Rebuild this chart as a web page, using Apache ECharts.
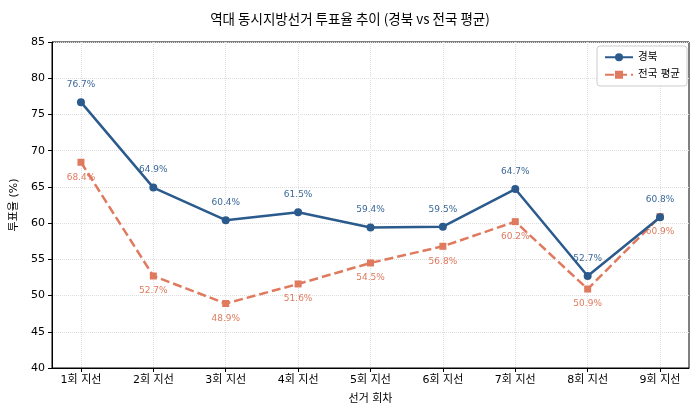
<!DOCTYPE html>
<html>
<head>
<meta charset="utf-8">
<script src="https://cdn.jsdelivr.net/npm/echarts@6/dist/echarts.min.js"></script>
<style>html,body{margin:0;padding:0;background:#fff}#chart{width:700px;height:420px}</style>
</head>
<body>
<div id="chart"></div>
<script>
var rounds = ['1회 지선', '2회 지선', '3회 지선', '4회 지선', '5회 지선', '6회 지선', '7회 지선', '8회 지선', '9회 지선'];
var gyeongbuk = [76.7, 64.9, 60.4, 61.5, 59.4, 59.5, 64.7, 52.7, 60.8];
var national = [68.4, 52.7, 48.9, 51.6, 54.5, 56.8, 60.2, 50.9, 60.9];

var FONT = 'DejaVu Sans, Noto Sans CJK KR, sans-serif';
var BLUE = '#2b5a8c';
var ORANGE = '#e07a5f';

function pairs(arr) {
  return arr.map(function (v, i) { return [i, v]; });
}
var idx = rounds.map(function (r, i) { return i; });

var chart = echarts.init(document.getElementById('chart'));
chart.setOption({
  animation: false,
  textStyle: { fontFamily: FONT },
  title: {
    text: '역대 동시지방선거 투표율 추이 (경북 vs 전국 평균)',
    left: 'center', top: 7,
    textStyle: { fontFamily: 'Noto Sans CJK KR', fontSize: 13.5, fontWeight: 'normal', color: '#000' }
  },
  grid: {
    left: 52, right: 11, top: 42, bottom: 52,
    show: true, borderColor: '#000', borderWidth: 1
  },
  legend: {
    right: 13, top: 46, orient: 'vertical', itemGap: 7,
    itemWidth: 28, itemHeight: 10,
    borderColor: '#ccc', borderWidth: 1, borderRadius: 3, padding: [6, 7],
    backgroundColor: 'rgba(255,255,255,0.9)',
    textStyle: { fontFamily: FONT, fontSize: 10.5, color: '#000' },
    data: ['경북', '전국 평균']
  },
  xAxis: {
    type: 'value', min: -0.4, max: 8.4,
    name: '선거 회차', nameLocation: 'middle', nameGap: 26,
    nameTextStyle: { fontFamily: FONT, fontSize: 11, color: '#000' },
    axisLine: { show: true, onZero: false, lineStyle: { color: '#000' } },
    axisTick: { show: true, customValues: idx, length: 4, lineStyle: { color: '#000' } },
    axisLabel: {
      customValues: idx, color: '#000', fontSize: 11, margin: 7,
      formatter: function (v) { return rounds[Math.round(v)]; }
    },
    splitLine: { show: true, lineStyle: { color: '#ddd', type: 'dotted' } }
  },
  yAxis: {
    type: 'value', min: 40, max: 85, interval: 5,
    name: '투표율 (%)', nameLocation: 'middle', nameGap: 32,
    nameTextStyle: { fontFamily: FONT, fontSize: 11, color: '#000' },
    axisLine: { show: true, onZero: false, lineStyle: { color: '#000' } },
    axisTick: { show: true, length: 4, lineStyle: { color: '#000' } },
    axisLabel: { color: '#000', fontSize: 11, margin: 7 },
    splitLine: { show: true, lineStyle: { color: '#ddd', type: 'dotted' } }
  },
  series: [
    {
      name: '경북', type: 'line', data: pairs(gyeongbuk),
      symbol: 'circle', symbolSize: 8,
      lineStyle: { color: BLUE, width: 2.5 },
      itemStyle: { color: BLUE },
      label: {
        show: true, position: 'top', distance: 9,
        color: '#3a6898', fontSize: 9, fontFamily: FONT,
        formatter: function (p) { return p.value[1].toFixed(1) + '%'; }
      },
      z: 3
    },
    {
      name: '전국 평균', type: 'line', data: pairs(national),
      symbol: 'rect', symbolSize: 7,
      lineStyle: { color: ORANGE, width: 2.5, type: [9, 4] },
      itemStyle: { color: ORANGE },
      label: {
        show: true, position: 'bottom', distance: 7,
        color: ORANGE, fontSize: 9, fontFamily: FONT,
        formatter: function (p) { return p.value[1].toFixed(1) + '%'; }
      },
      z: 2
    }
  ]
});
</script>
</body>
</html>
